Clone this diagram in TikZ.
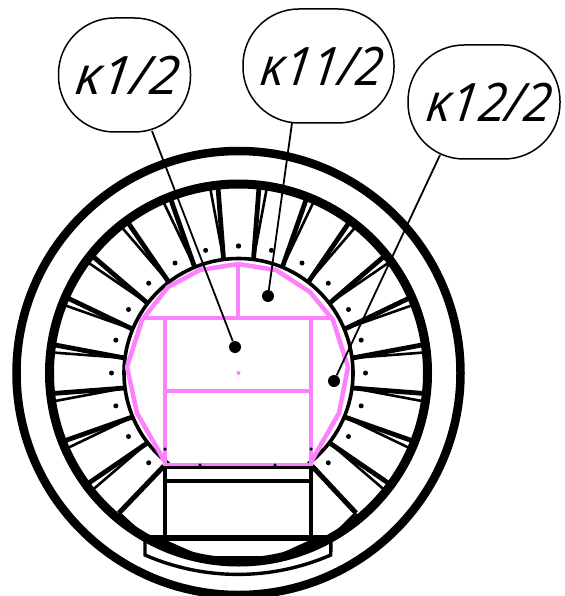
\documentclass[tikz,border=0pt]{standalone}
\usepackage{fontspec}
\setmainfont{Open Sans}
\usetikzlibrary{calc}
\definecolor{pink}{HTML}{FF80FF}
\tikzset{
  x=1pt,y=-1pt,
  bubble/.style={draw=black,line width=1.5pt,rounded corners=56pt,fill=white,inner sep=0pt,minimum height=114pt},
  bubbletext/.style={font=\fontsize{53}{53}\selectfont\itshape,inner sep=0pt,transform shape,xslant=0.12},
  leader/.style={draw=black,line width=1.8pt},
  pinkline/.style={draw=pink,line width=4.5pt},
  bigdot/.style={circle,fill=black,inner sep=0pt,minimum size=12pt},
  smalldot/.style={circle,fill=black,inner sep=0pt,minimum size=5pt},
  tick/.style={circle,fill=black,inner sep=0pt,minimum size=3.5pt},
  cadline/.style={draw=black,line width=4pt},
}
\begin{document}
\begin{tikzpicture}
\useasboundingbox (0,0) rectangle (564,596);
\clip (0,0) rectangle (564,596);
\coordinate (c) at (238.5,373);
% rings
\draw[line width=8.5pt] (c) circle[radius=222];
\draw[line width=9pt] (c) circle[radius=189];
% spokes
\foreach \s in {-1,1}{
 \foreach \k in {0,...,8}{
  \pgfmathsetmacro{\a}{270+\s*(7.5+15*\k)}
  \pgfmathsetmacro{\b}{\a-\s*1.2}
  \pgfmathsetmacro{\e}{\a+\s*1.2}
  \draw[line width=4.8pt] ($(c)+(\a:115)$) -- ($(c)+(\b:187)$);
  \draw[line width=2.6pt] ($(c)+(\a:115)$) -- ($(c)+(\e:187)$);
 }
 \foreach \k in {0,...,9}{
  \pgfmathsetmacro{\d}{270+\s*15*\k}
  \node[smalldot] at ($(c)+(\d:127)$) {};
 }
}
% inner arc
\draw[line width=3.6pt] ($(c)+(127.5:114.5)$) arc[start angle=127.5,end angle=412.5,radius=114.5];
% bottom structure
\draw[line width=5pt,line join=miter] (164,466) -- (119,513);
\draw[line width=5pt,line join=miter] (312,466) -- (356,513);
\draw[line width=3pt] (119,513) -- (146,538);
\draw[line width=3pt] (356,513) -- (331,538);
\draw[cadline] (165,466) -- (165,538);
\draw[cadline] (311,466) -- (311,538);
\draw[cadline] (165,467) -- (311,467);
\draw[cadline] (165,481) -- (311,481);
\draw[line width=5.5pt] (145,538) -- (331,538);
\fill ($(c)+(61:189)$) arc[start angle=61,end angle=119,radius=189] -- (168,541) -- (202,556) -- (275,556) -- (308,541) -- cycle;
\draw[line width=3.4pt,line join=miter] (145,538) -- (145,555) arc[start angle=113.6,end angle=66.4,radius=232] -- (331,538);
% pink
\draw[pinkline,line join=round] (165,462) -- (137,413) -- (127,367) -- (142,320) -- (168,287) -- (200,270) -- (238,264) -- (276,270) -- (310,292) -- (333,320) -- (348,367) -- (339,413) -- (311,462);
\draw[pinkline] (142,318) -- (333,318);
\draw[pinkline] (238,264) -- (238,318);
\draw[pinkline] (165,318) -- (165,464);
\draw[pinkline] (311,318) -- (311,464);
\draw[pinkline] (165,391) -- (311,391);
\draw[draw=pink,line width=2.5pt] (163,464.5) -- (313,464.5);
\fill[pink] (238.5,373) circle[radius=2];
% small marks on the lines
\foreach \mx/\my in {200/465,275/465,200/538,275/538,165/449,311/449}{
  \node[tick] at (\mx,\my) {};
}
% targets
\node[bigdot] (p1) at (235,347) {};
\node[bigdot] (p2) at (268,296) {};
\node[bigdot] (p3) at (334,381) {};
% bubbles
\node[bubble,minimum width=132pt] (b1) at (124.5,75) {};
\node[bubble,minimum width=151pt] (b2) at (318.5,66) {};
\node[bubble,minimum width=152pt] (b3) at (484,102) {};
\node[bubbletext] at ($(b1)+(4,0)$) {κ1/2};
\node[bubbletext,xscale=0.92] at ($(b2)+(4,0)$) {κ11/2};
\node[bubbletext,xscale=0.94] at ($(b3)+(6,0)$) {κ12/2};
\coordinate (l1) at (152,131);
\coordinate (l2) at (292,123);
\coordinate (l3) at (440,155);
\draw[leader] (l1) -- (p1);
\draw[leader] (l2) -- (p2);
\draw[leader] (l3) -- (p3);
\end{tikzpicture}
\end{document}
